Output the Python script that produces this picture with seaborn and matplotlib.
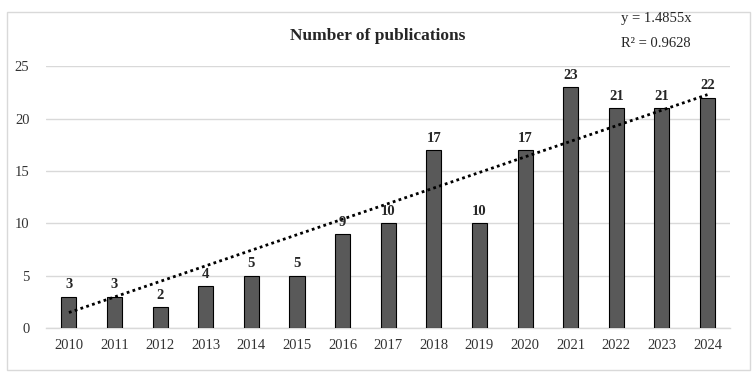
import matplotlib
matplotlib.use('Agg')
import matplotlib.pyplot as plt
import numpy as np
import seaborn as sns
from matplotlib.patches import Rectangle

years = ['2010', '2011', '2012', '2013', '2014', '2015', '2016', '2017',
         '2018', '2019', '2020', '2021', '2022', '2023', '2024']
counts = [3, 3, 2, 4, 5, 5, 9, 10, 17, 10, 17, 23, 21, 21, 22]
slope = 1.4855
r2 = 0.9628

sns.set_style('white')
plt.rcParams['font.family'] = ['Liberation Serif', 'DejaVu Serif']

fig = plt.figure(figsize=(7.56, 3.78), dpi=100)
ax = fig.add_axes([0.061, 0.132, 0.905, 0.693])

sns.barplot(x=years, y=counts, color='#595959', edgecolor='black',
            linewidth=0.8, width=0.33, saturation=1, ax=ax, zorder=3)

# linear trend through origin
xs = np.arange(len(years))
ax.plot(xs, slope * (xs + 1), color='black', linestyle=(0, (1, 1.2)),
        linewidth=2, zorder=4)

for i, v in enumerate(counts):
    ax.text(i, v + 0.5, str(v), ha='center', va='bottom', fontsize=10.5,
            fontweight='bold', zorder=5)

ax.set_ylim(0, 25)
ax.set_xlim(-0.5, len(years) - 0.5)
ax.set_yticks([0, 5, 10, 15, 20, 25])
ax.yaxis.grid(True, color='#d9d9d9', linewidth=1, zorder=0)
ax.set_axisbelow(True)
for s in ['top', 'right', 'left']:
    ax.spines[s].set_visible(False)
ax.spines['bottom'].set_color('#d9d9d9')
ax.spines['bottom'].set_linewidth(1)
ax.tick_params(axis='both', length=0, labelsize=10.5, colors='#333333')
ax.tick_params(axis='y', pad=12)
ax.tick_params(axis='x', pad=8)

fig.text(0.5, 0.905, 'Number of publications', ha='center', va='center',
         fontsize=12.5, fontweight='bold')
fig.text(0.868, 0.952, f'y = {slope}x', ha='center', va='center', fontsize=10.5)
fig.text(0.868, 0.885, f'R² = {r2}', ha='center', va='center', fontsize=10.5)

fig.patches.append(Rectangle((0.009, 0.021), 0.983, 0.947, transform=fig.transFigure,
                             fill=False, edgecolor='#d9d9d9', linewidth=1))

fig.savefig('out.png', dpi=100)
